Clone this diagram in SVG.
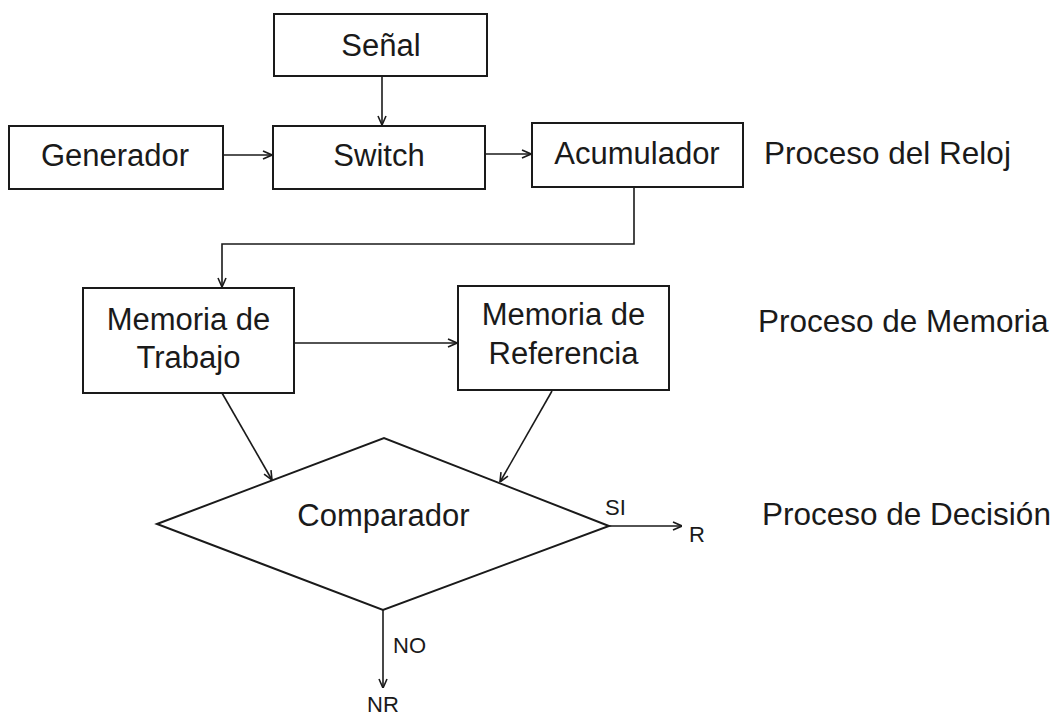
<svg xmlns="http://www.w3.org/2000/svg" width="1058" height="717" viewBox="0 0 1058 717">
<style>
.box{fill:#fff;stroke:#1a1a1a;stroke-width:2}
.t{font-family:"Liberation Sans",Arial,sans-serif;font-size:31px;fill:#1a1a1a;text-anchor:middle}
.side{font-family:"Liberation Sans",Arial,sans-serif;font-size:31.5px;fill:#1a1a1a}
.s{font-family:"Liberation Sans",Arial,sans-serif;font-size:22px;fill:#1a1a1a}
.c{fill:none;stroke:#1a1a1a;stroke-width:1.6}
</style>
<defs>
<marker id="ah" viewBox="0 0 10 10" refX="10" refY="5" markerWidth="10" markerHeight="10" markerUnits="userSpaceOnUse" orient="auto">
<path d="M1,1 L10,5 L1,9" fill="none" stroke="#1a1a1a" stroke-width="1.6"/>
</marker>
</defs>
<rect width="1058" height="717" fill="#fff"/>
<g id="connectors">
<line class="c" x1="382" y1="76" x2="382" y2="125" marker-end="url(#ah)"/>
<line class="c" x1="223" y1="155" x2="272" y2="155" marker-end="url(#ah)"/>
<line class="c" x1="485" y1="154" x2="531" y2="154" marker-end="url(#ah)"/>
<path class="c" d="M634,187 L634,244 L222,244 L222,287" marker-end="url(#ah)"/>
<line class="c" x1="294" y1="343" x2="457" y2="343" marker-end="url(#ah)"/>
<line class="c" x1="222" y1="393" x2="272" y2="480" marker-end="url(#ah)"/>
<line class="c" x1="552" y1="391" x2="500" y2="482" marker-end="url(#ah)"/>
<line class="c" x1="609" y1="526" x2="682" y2="526" marker-end="url(#ah)"/>
<line class="c" x1="383" y1="610" x2="383" y2="688" marker-end="url(#ah)"/>
</g>
<g id="senal"><rect class="box" x="274" y="14" width="213" height="62"/><text class="t" x="381" y="56">Señal</text></g>
<g id="generador"><rect class="box" x="9" y="126" width="214" height="63"/><text class="t" x="115" y="166">Generador</text></g>
<g id="switch"><rect class="box" x="273" y="126" width="212" height="63"/><text class="t" x="379" y="166">Switch</text></g>
<g id="acumulador"><rect class="box" x="532" y="123" width="211" height="64"/><text class="t" x="637" y="164">Acumulador</text></g>
<g id="memoria-trabajo"><rect class="box" x="83" y="288" width="211" height="105"/><text class="t" x="188.5" y="330">Memoria de</text><text class="t" x="188.5" y="368">Trabajo</text></g>
<g id="memoria-referencia"><rect class="box" x="458" y="286" width="211" height="104"/><text class="t" x="563.5" y="325">Memoria de</text><text class="t" x="563.5" y="364">Referencia</text></g>
<g id="comparador"><polygon class="box" points="157,524 384,438 609,526 383,610"/><text class="t" x="383.5" y="526">Comparador</text></g>
<g id="labels">
<text class="s" x="605" y="515">SI</text>
<text class="s" x="689" y="542">R</text>
<text class="s" x="393" y="653">NO</text>
<text class="s" x="367" y="712">NR</text>
<text class="side" x="764" y="164">Proceso del Reloj</text>
<text class="side" x="758" y="332">Proceso de Memoria</text>
<text class="side" x="762" y="525">Proceso de Decisión</text>
</g>
</svg>
